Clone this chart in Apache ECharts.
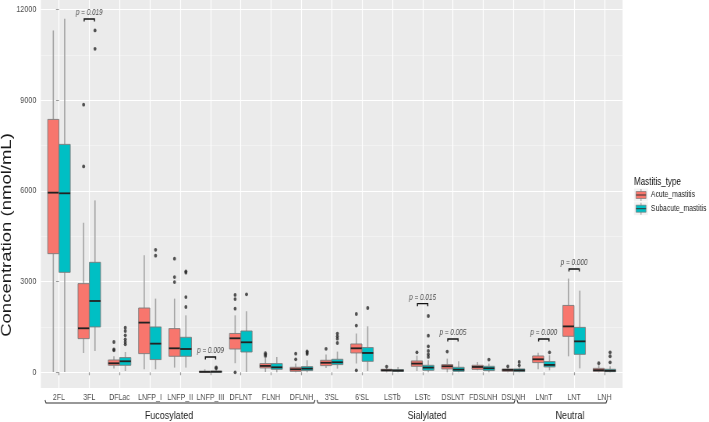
<!DOCTYPE html>
<html><head><meta charset="utf-8">
<script src="https://cdn.jsdelivr.net/npm/echarts@6/dist/echarts.min.js"></script>
<style>
html,body{margin:0;padding:0;background:#fff;overflow:hidden;width:709px;height:422px}
#wrap{width:709px;height:422px;overflow:hidden;position:relative}
#c{position:absolute;left:0;top:0;height:422px;transform-origin:0 0}
</style>
</head><body><div id="wrap"><div id="c"></div></div>
<script>
// ---------- data ----------
const categories = ['2FL','3FL','DFLac','LNFP_I','LNFP_II','LNFP_III','DFLNT','FLNH','DFLNH',"3'SL","6'SL",'LSTb','LSTc','DSLNT','FDSLNH','DSLNH','LNnT','LNT','LNH'];
// [min, q1, median, q3, max] (nmol/mL)
const acuteStats = [
  [10, 3924, 5941, 8364, 11306],
  [639, 1113, 1455, 2932, 4949],
  [122, 231, 298, 407, 529],
  [99, 617, 1643, 2126, 3868],
  [155, 529, 793, 1444, 2436],
  [0, 5, 15, 35, 100],
  [300, 770, 1124, 1284, 1884],
  [10, 143, 210, 287, 474],
  [0, 33, 99, 165, 287],
  [140, 220, 315, 397, 590],
  [287, 639, 793, 936, 1279],
  [0, 40, 66, 99, 140],
  [43, 198, 287, 375, 551],
  [0, 110, 198, 254, 452],
  [66, 99, 176, 231, 341],
  [0, 33, 77, 110, 150],
  [99, 320, 430, 540, 650],
  [528, 1190, 1518, 2211, 3100],
  [0, 30, 70, 130, 250]
];
const subacuteStats = [
  [10, 3306, 5920, 7538, 11693],
  [705, 1499, 2358, 3637, 5686],
  [43, 231, 364, 486, 671],
  [99, 420, 947, 1499, 2436],
  [155, 529, 770, 1157, 1884],
  [0, 5, 18, 40, 90],
  [10, 671, 992, 1366, 2017],
  [0, 99, 165, 287, 507],
  [0, 55, 121, 187, 397],
  [121, 254, 331, 430, 684],
  [43, 364, 639, 817, 1521],
  [0, 30, 55, 88, 176],
  [0, 66, 155, 231, 397],
  [0, 33, 88, 165, 364],
  [0, 55, 132, 198, 287],
  [0, 22, 66, 110, 176],
  [66, 176, 243, 353, 562],
  [130, 594, 1023, 1485, 2700],
  [0, 20, 50, 100, 200]
];
const acuteOutliers = [
  ['3FL', 6810], ['3FL', 8850],
  ['DFLac', 727], ['DFLac', 760], ['DFLac', 1002],
  ['LNFP_II', 2985], ['LNFP_II', 3150], ['LNFP_II', 3758],
  ['DFLNT', 0], ['DFLNT', 2105], ['DFLNT', 2420], ['DFLNT', 2560],
  ['FLNH', 540], ['FLNH', 585], ['FLNH', 630],
  ['DFLNH', 430], ['DFLNH', 617],
  ["3'SL", 776],
  ["6'SL", 66], ["6'SL", 1544], ["6'SL", 1927],
  ['LSTb', 190],
  ['LSTc', 661],
  ['DSLNT', 684],
  ['DSLNH', 198],
  ['LNH', 300]
];
const subacuteOutliers = [
  ['3FL', 10700], ['3FL', 11306],
  ['DFLac', 926], ['DFLac', 1002], ['DFLac', 1091], ['DFLac', 1223], ['DFLac', 1366], ['DFLac', 1477],
  ['LNFP_I', 3858], ['LNFP_I', 4050],
  ['LNFP_II', 2159], ['LNFP_II', 2489], ['LNFP_II', 3296], ['LNFP_II', 3339],
  ['LNFP_III', 130], ['LNFP_III', 165],
  ['DFLNT', 2578],
  ['DFLNH', 606], ['DFLNH', 650], ['DFLNH', 694],
  ["3'SL", 969], ["3'SL", 1113], ["3'SL", 1190], ["3'SL", 1279],
  ["6'SL", 2126],
  ['LSTc', 507], ['LSTc', 595], ['LSTc', 705], ['LSTc', 860], ['LSTc', 1212], ['LSTc', 1862],
  ['FDSLNH', 419],
  ['DSLNH', 231], ['DSLNH', 341],
  ['LNnT', 661],
  ['LNH', 330], ['LNH', 530], ['LNH', 660]
];
const pCategories = ['3FL', 'LNFP_III', 'LSTc', 'DSLNT', 'LNnT', 'LNT'];
const pLabels = ['p = 0.019', 'p = 0.009', 'p = 0.015', 'p = 0.005', 'p = 0.000', 'p = 0.000'];
const pHeights = [11686, 506, 2270, 1100, 1100, 3417];
const yTicks = [0, 3000, 6000, 9000, 12000];
const yMinorTicks = [1500, 4500, 7500, 10500];
const seriesNames = ['Acute_mastitis', 'Subacute_mastitis'];
const groupNames = ['Fucosylated', 'Sialylated', 'Neutral'];

// ---------- style / layout ----------
// the reference figure is horizontally compressed; draw wider and squeeze with CSS
const S = 0.78;
const px = v => v / S;           // final-pixel x -> drawing x
const COLORS = ['#F8766D', '#00BFC4'];
const FONT = '"Liberation Sans", Arial, sans-serif';
const BOX_W = 0.37;
const DODGE = 0.1875;

const el = document.getElementById('c');
el.style.width = Math.round(709 / S) + 'px';
el.style.transform = 'scaleX(' + S + ')';
const chart = echarts.init(el, null, {renderer: 'canvas'});

function boxRenderer(offset, color) {
  return function (params, api) {
    const i = api.value(0);
    const x = i + offset;
    const half = api.size([BOX_W, 0])[0] / 2;
    const xc = api.coord([x, 0])[0];
    const y = k => api.coord([x, api.value(k)])[1];
    const yMin = y(1), yQ1 = y(2), yMed = y(3), yQ3 = y(4), yMax = y(5);
    const wStyle = {stroke: '#a3a3a3', lineWidth: 1.6};
    return {type: 'group', children: [
      {type: 'line', shape: {x1: xc, y1: yMax, x2: xc, y2: yQ3}, style: wStyle},
      {type: 'line', shape: {x1: xc, y1: yQ1, x2: xc, y2: yMin}, style: wStyle},
      {type: 'rect', shape: {x: xc - half, y: yQ3, width: half * 2, height: Math.max(yQ1 - yQ3, 1)},
        style: {fill: color, stroke: '#7a7a7a', lineWidth: 0.9}},
      {type: 'line', shape: {x1: xc - half, y1: yMed, x2: xc + half, y2: yMed},
        style: {stroke: '#222', lineWidth: 1.8}}
    ]};
  };
}

function pRenderer(params, api) {
  const i = api.value(0);
  const yb = api.coord([i, api.value(1)])[1];
  const x1 = api.coord([i - 0.17, 0])[0];
  const x2 = api.coord([i + 0.17, 0])[0];
  const xc = api.coord([i, 0])[0];
  return {type: 'group', children: [
    {type: 'polyline', shape: {points: [[x1, yb + 2.6], [x1, yb], [x2, yb], [x2, yb + 2.6]]},
      style: {stroke: '#111', lineWidth: 1.4, fill: null}},
    {type: 'text', x: xc, y: yb - 2, style: {text: pLabels[params.dataIndex], fontSize: 8.2,
      fontStyle: 'italic', fontFamily: FONT, fill: '#4d4d4d', align: 'center', verticalAlign: 'bottom'}}
  ]};
}

const idx = c => categories.indexOf(c);

const gridLines = [].concat(
  yTicks.map(v => ({yAxis: v, lineStyle: {color: '#ffffff', width: 1, type: 'solid'}})),
  yMinorTicks.map(v => ({yAxis: v, lineStyle: {color: '#f7f7f7', width: 0.6, type: 'solid'}})),
  categories.map((c, i) => ({xAxis: i, lineStyle: {color: '#ffffff', width: 1.2, type: 'solid'}}))
);

// legend, group brackets, axis title
const G = [
  {type: 'text', x: px(634), y: 181.7, style: {text: 'Mastitis_type', fontSize: 10.3, fontFamily: FONT, fill: '#111', verticalAlign: 'middle'}}
];
seriesNames.forEach((n, k) => {
  const cy = 195 + k * 13.7;
  G.push(
    {type: 'rect', shape: {x: px(634), y: cy - 6.5, width: px(14), height: 13}, style: {fill: '#f2f2f2'}},
    {type: 'line', shape: {x1: px(641), y1: cy - 6, x2: px(641), y2: cy + 6}, style: {stroke: '#a3a3a3', lineWidth: 1.2}},
    {type: 'rect', shape: {x: px(636), y: cy - 3.5, width: px(10), height: 7}, style: {fill: COLORS[k], stroke: '#7a7a7a', lineWidth: 0.7}},
    {type: 'line', shape: {x1: px(636), y1: cy, x2: px(646), y2: cy}, style: {stroke: '#333', lineWidth: 1}},
    {type: 'text', x: px(651), y: cy, style: {text: n, fontSize: 8.7, fontFamily: FONT, fill: '#222', verticalAlign: 'middle'}}
  );
});
const groupSpans = [[45, 315, 169], [317, 515, 427], [517, 607, 570]];
groupNames.forEach((g, k) => {
  const [a, b, c] = groupSpans[k];
  G.push(
    {type: 'polyline', shape: {points: [[px(a), 400], [px(a + 1), 403], [px(b - 1), 403], [px(b), 400]]}, style: {stroke: '#333', lineWidth: 1.1, fill: null}},
    {type: 'text', x: px(c), y: 416, style: {text: g, fontSize: 11.5, fontFamily: FONT, fill: '#222', align: 'center', verticalAlign: 'middle'}}
  );
});
G.push({type: 'text', x: px(7), y: 235, rotation: Math.PI / 2,
  style: {text: 'Concentration (nmol/mL)', fontSize: 18.5, fontFamily: FONT, fill: '#1a1a1a', align: 'center', verticalAlign: 'middle'}});

chart.setOption({
  animation: false,
  textStyle: {fontFamily: FONT},
  grid: {left: px(40.8), top: 0, width: px(581.8), height: 388, show: true, backgroundColor: '#EBEBEB', borderWidth: 0},
  xAxis: {
    type: 'value', min: -0.6, max: 18.6,
    axisLine: {show: false},
    splitLine: {show: false},
    axisTick: {show: true, customValues: categories.map((c, i) => i), length: 3, lineStyle: {color: '#9a9a9a', width: 1.2}},
    axisLabel: {customValues: categories.map((c, i) => i), formatter: v => categories[Math.round(v)],
      color: '#4D4D4D', fontSize: 9, margin: 5, fontFamily: FONT}
  },
  yAxis: {
    type: 'value', min: -520, max: 12314,
    axisLine: {show: false},
    splitLine: {show: false},
    axisTick: {show: true, customValues: yTicks, length: px(3), lineStyle: {color: '#9a9a9a'}},
    axisLabel: {customValues: yTicks, formatter: v => String(v), color: '#4D4D4D', fontSize: 9.2, margin: px(4.5), fontFamily: FONT}
  },
  series: [
    {type: 'line', data: [], z: 0, zlevel: 0, silent: true,
      markLine: {z: 0, silent: true, symbol: 'none', animation: false, label: {show: false}, data: gridLines}},
    {type: 'custom', name: seriesNames[0], z: 3, renderItem: boxRenderer(-DODGE, COLORS[0]),
      encode: {x: 0, y: [1, 2, 3, 4, 5]}, data: acuteStats.map((s, i) => [i].concat(s))},
    {type: 'custom', name: seriesNames[1], z: 3, renderItem: boxRenderer(DODGE, COLORS[1]),
      encode: {x: 0, y: [1, 2, 3, 4, 5]}, data: subacuteStats.map((s, i) => [i].concat(s))},
    {type: 'scatter', z: 4, symbolSize: 3.8, itemStyle: {color: '#2b2b2b'}, silent: true,
      data: acuteOutliers.map(([c, v]) => [idx(c) - DODGE, v])},
    {type: 'scatter', z: 4, symbolSize: 3.8, itemStyle: {color: '#2b2b2b'}, silent: true,
      data: subacuteOutliers.map(([c, v]) => [idx(c) + DODGE, v])},
    {type: 'custom', z: 5, renderItem: pRenderer, encode: {x: 0, y: 1},
      data: pCategories.map((c, k) => [idx(c), pHeights[k]])}
  ],
  graphic: G
});
</script></body></html>
